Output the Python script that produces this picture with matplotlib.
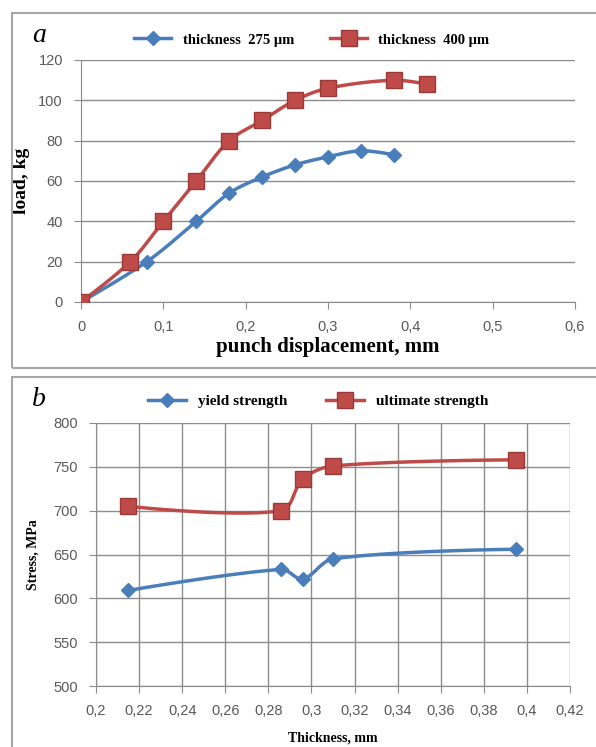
import matplotlib
matplotlib.use("Agg")
import matplotlib.pyplot as plt
from matplotlib.patches import Rectangle
import numpy as np

# panel a: load vs punch displacement
disp_275 = [0, 0.08, 0.14, 0.18, 0.22, 0.26, 0.30, 0.34, 0.38]
load_275 = [0, 20, 40, 54, 62, 68, 72, 75, 73]
disp_400 = [0, 0.06, 0.10, 0.14, 0.18, 0.22, 0.26, 0.30, 0.38, 0.42]
load_400 = [0, 20, 40, 60, 80, 90, 100, 106, 110, 108]

# panel b: stress vs thickness
thick = [0.215, 0.286, 0.296, 0.31, 0.395]
yield_str = [609, 633, 622, 645, 656]
ult_str = [705, 700, 736, 751, 758]

BLUE = "#4a7ebb"
RED = "#be4b48"
GRID = "#8c8c8c"
TICK = "#595959"
SERIF = ["Liberation Serif", "DejaVu Serif"]
SANS = ["Liberation Sans", "DejaVu Sans"]


def smooth(x, y, sx, sy, n=30):
    # smoothed line through the points, tangents weighted by segment length
    x = np.asarray(x, float)
    y = np.asarray(y, float)
    u, v = x / sx, y / sy  # roughly screen units
    d = np.hypot(np.diff(u), np.diff(v))
    m = len(x)
    tx, ty = np.zeros(m), np.zeros(m)
    for i in range(m):
        a, b = max(i - 1, 0), min(i + 1, m - 1)
        tx[i], ty[i] = x[b] - x[a], y[b] - y[a]
    t = np.linspace(0, 1, n)
    xs, ys = [], []
    for i in range(m - 1):
        dl = d[i - 1] if i > 0 else d[i]
        dr = d[i + 1] if i < m - 2 else d[i]
        f1 = d[i] / (dl + d[i]) / 3 if i > 0 else 0
        f2 = d[i] / (d[i] + dr) / 3 if i < m - 2 else 0
        c1x, c1y = x[i] + tx[i] * f1, y[i] + ty[i] * f1
        c2x, c2y = x[i + 1] - tx[i + 1] * f2, y[i + 1] - ty[i + 1] * f2
        b = [(1 - t) ** 3, 3 * (1 - t) ** 2 * t, 3 * (1 - t) * t ** 2, t ** 3]
        xs.append(b[0] * x[i] + b[1] * c1x + b[2] * c2x + b[3] * x[i + 1])
        ys.append(b[0] * y[i] + b[1] * c1y + b[2] * c2y + b[3] * y[i + 1])
    return np.concatenate(xs), np.concatenate(ys)


def series(ax, x, y, color, marker, ms, label, sx, sy):
    cx, cy = smooth(x, y, sx, sy)
    mec = "#9a3a38" if marker == "s" else color
    ax.plot(cx, cy, color=color, lw=2.5, zorder=3)
    ax.plot(x, y, ls="none", marker=marker, ms=ms, color=color, mec=mec, zorder=4)
    return ax.plot([], [], color=color, lw=2.5, marker=marker, ms=ms,
                   mec=mec, label=label)[0]


W, H = 596, 747
fig = plt.figure(figsize=(W / 100, H / 100), dpi=100)
fig.patch.set_facecolor("white")


def px(l, t, r, b):
    return [l / W, 1 - b / H, (r - l) / W, (b - t) / H]


# panel frames
for (l, t, r, b) in [(12, 13, 600, 368), (12, 377, 600, 760)]:
    fig.patches.append(Rectangle((l / W, 1 - b / H), (r - l) / W, (b - t) / H,
                                 transform=fig.transFigure, fill=False,
                                 ec="#a6a6a6", lw=1.5))

# ---- panel a ----
ax = fig.add_axes(px(81, 60, 575, 302))
h1 = series(ax, disp_275, load_275, BLUE, "D", 7, "thickness  275 µm", 0.6 / 494, 120 / 242)
h2 = series(ax, disp_400, load_400, RED, "s", 11, "thickness  400 µm", 0.6 / 494, 120 / 242)
ax.set_xlim(0, 0.6)
ax.set_ylim(0, 120)
ax.set_xticks(np.arange(0, 0.61, 0.1))
ax.set_xticklabels(["0", "0,1", "0,2", "0,3", "0,4", "0,5", "0,6"])
ax.set_yticks(range(0, 121, 20))
ax.yaxis.grid(True, color=GRID, lw=1)
ax.set_axisbelow(True)
for s in ["top", "right"]:
    ax.spines[s].set_visible(False)
for s in ["left", "bottom"]:
    ax.spines[s].set_color(GRID)
ax.tick_params(colors=GRID, labelcolor=TICK, labelsize=10.5, length=5, pad=8)
for lab in ax.get_xticklabels() + ax.get_yticklabels():
    lab.set_family(SANS)
ax.set_ylabel("load, kg", fontsize=14, fontweight="bold", family=SERIF, labelpad=6)
ax.set_xlabel("punch displacement, mm", fontsize=15, fontweight="bold",
              family=SERIF, labelpad=2)
fig.legend(handles=[h1, h2], loc="center", bbox_to_anchor=(312 / W, 1 - 40 / H),
           ncol=2, frameon=False, handlelength=2.5, columnspacing=2.5,
           prop={"family": SERIF, "weight": "bold", "size": 10.5})
fig.text(32 / W, 1 - 36 / H, "a", fontsize=20, style="italic", family=SERIF,
         va="center")

# ---- panel b ----
bx = fig.add_axes(px(96, 423, 570, 686))
g1 = series(bx, thick, yield_str, BLUE, "D", 7, "yield strength", 0.22 / 474, 300 / 263)
g2 = series(bx, thick, ult_str, RED, "s", 11, "ultimate strength", 0.22 / 474, 300 / 263)
bx.set_xlim(0.2, 0.42)
bx.set_ylim(500, 800)
xt = np.arange(0.2, 0.4201, 0.02)
bx.set_xticks(xt)
bx.set_xticklabels([f"{v:.2f}".rstrip("0").rstrip(".").replace(".", ",") for v in xt])
bx.set_yticks(range(500, 801, 50))
bx.grid(True, color=GRID, lw=1)
bx.set_axisbelow(True)
for s in bx.spines.values():
    s.set_visible(False)
for s in ["left", "bottom"]:
    bx.spines[s].set_visible(True)
    bx.spines[s].set_color(GRID)
bx.tick_params(colors=GRID, labelcolor=TICK, labelsize=10.5, length=5, pad=8)
for lab in bx.get_xticklabels() + bx.get_yticklabels():
    lab.set_family(SANS)
bx.set_ylabel("Stress, MPa", fontsize=10, fontweight="bold", family=SERIF,
              labelpad=10)
bx.set_xlabel("Thickness, mm", fontsize=10, fontweight="bold", family=SERIF,
              labelpad=10)
fig.legend(handles=[g1, g2], loc="center", bbox_to_anchor=(318 / W, 1 - 401 / H),
           ncol=2, frameon=False, handlelength=2.5, columnspacing=2.5,
           prop={"family": SERIF, "weight": "bold", "size": 11})
fig.text(32 / W, 1 - 399 / H, "b", fontsize=20, style="italic", family=SERIF,
         va="center")

fig.savefig("out.png", dpi=100)
